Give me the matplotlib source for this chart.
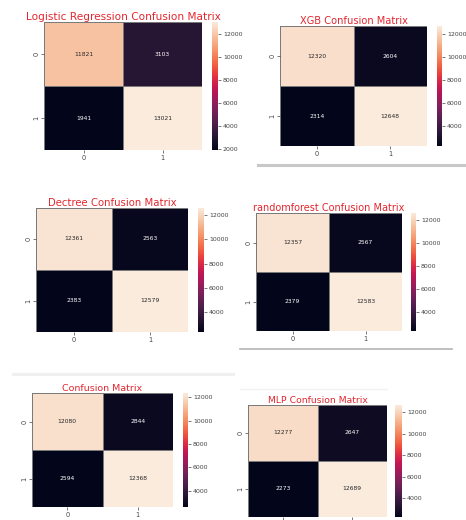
import matplotlib
matplotlib.use("Agg")
import matplotlib.pyplot as plt
from matplotlib.lines import Line2D
import seaborn as sns

# Confusion matrices (rows: true class, cols: predicted class)
class_labels = ["0", "1"]
logreg_cm = [[11821, 3103], [1941, 13021]]
xgb_cm = [[12320, 2604], [2314, 12648]]
dtree_cm = [[12361, 2563], [2383, 12579]]
rf_cm = [[12357, 2567], [2379, 12583]]
generic_cm = [[12080, 2844], [2594, 12368]]
mlp_cm = [[12277, 2647], [2273, 12689]]

titles = [
    "Logistic Regression Confusion Matrix",
    "XGB Confusion Matrix",
    "Dectree Confusion Matrix",
    "randomforest Confusion Matrix",
    "Confusion Matrix",
    "MLP Confusion Matrix",
]
matrices = [logreg_cm, xgb_cm, dtree_cm, rf_cm, generic_cm, mlp_cm]

W, H = 466, 520
fig = plt.figure(figsize=(W / 100, H / 100), dpi=100)
fig.patch.set_facecolor("white")


def px_axes(x0, y0, x1, y1):
    """Axes from pixel box measured from the top-left corner."""
    return fig.add_axes([x0 / W, 1 - y1 / H, (x1 - x0) / W, (y1 - y0) / H])


# (heatmap box, colorbar box, title fontsize)
layout = [
    ((44, 22, 202, 150), (212, 22, 218, 150), 7.6),
    ((280, 26, 427, 146), (437, 26, 442, 146), 7.1),
    ((36, 208, 188, 332), (198, 208, 204, 332), 7.3),
    ((256, 213, 402, 331), (411, 213, 416, 331), 7.0),
    ((32, 393, 173, 507), (183, 393, 188, 507), 6.8),
    ((248, 405, 387, 517), (395, 405, 402, 517), 6.7),
]

title_color = "#e3262f"

axes = []
for data, title, (hbox, cbox, tsize) in zip(matrices, titles, layout):
    ax = px_axes(*hbox)
    cax = px_axes(*cbox)
    sns.heatmap(
        data, ax=ax, cbar_ax=cax, annot=True, fmt="d", cmap="rocket",
        linewidths=0.6, linecolor="#7a7a7a",
        xticklabels=class_labels, yticklabels=class_labels,
        annot_kws={"fontsize": 4.3},
    )
    ax.set_title(title, color=title_color, fontsize=tsize, pad=1.5)
    ax.tick_params(axis="both", labelsize=4.8, length=2, width=0.5,
                   colors="#444444", pad=1.5)
    ax.set_yticklabels(class_labels, rotation=90, va="center")
    cax.tick_params(labelsize=4.5, length=2, width=0.5, colors="#444444",
                    pad=1.5)
    axes.append(ax)

# the last panel runs off the bottom edge: only its tick marks remain
axes[-1].tick_params(axis="x", labelbottom=False)

# thin separator rules between the stacked panels
fig.add_artist(Line2D([258 / W, 465 / W], [1 - 165 / H, 1 - 165 / H],
                      color="#c8c8c8", lw=2.2))
fig.add_artist(Line2D([240 / W, 452 / W], [1 - 349 / H, 1 - 349 / H],
                      color="#b4b4b4", lw=1.2))
fig.add_artist(Line2D([13 / W, 233 / W], [1 - 374 / H, 1 - 374 / H],
                      color="#f0f0f0", lw=2.2))
fig.add_artist(Line2D([240 / W, 387 / W], [1 - 389 / H, 1 - 389 / H],
                      color="#f2f2f2", lw=1.0))

fig.savefig("out.png", dpi=100, facecolor="white")
